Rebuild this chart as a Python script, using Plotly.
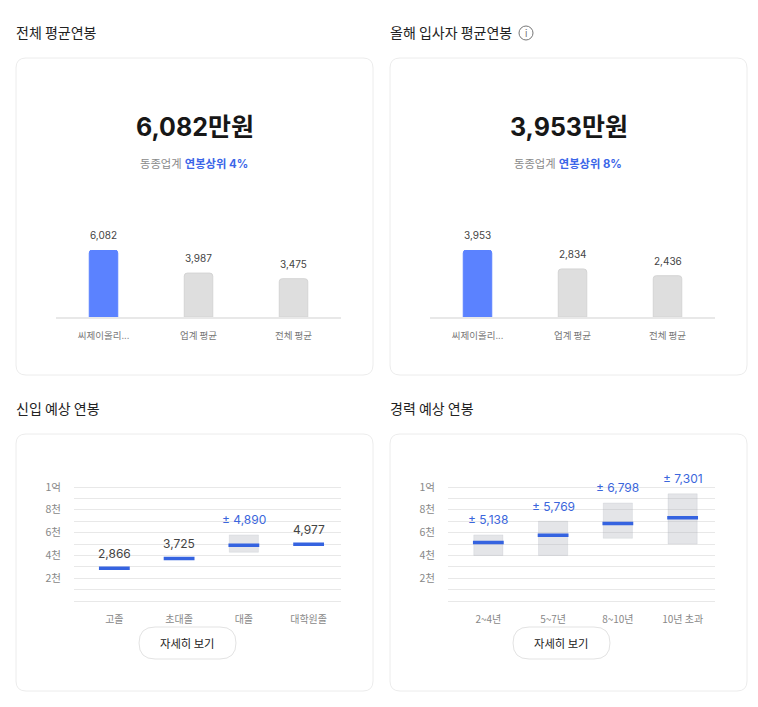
import plotly.graph_objects as go

W = 758
H = 707

FONT = "Inter, 'Noto Sans CJK KR', sans-serif"
KR = "'Noto Sans CJK KR', sans-serif"
BLUE = "#5b82ff"
LINE_BLUE = "#3563e0"
TEXT_BLUE = "#3b66dc"
GREY = "#dedede"
GRID = "#e8e8e8"

# top panels
total_cats = ["씨제이올리...", "업계 평균", "전체 평균"]
total_vals = [6082, 3987, 3475]
newhire_cats = ["씨제이올리...", "업계 평균", "전체 평균"]
newhire_vals = [3953, 2834, 2436]

# bottom left
entry_cats = ["고졸", "초대졸", "대졸", "대학원졸"]
entry_vals = [2866, 3725, 4890, 4977]
entry_low = [None, None, 4270, None]
entry_high = [None, None, 5800, None]

# bottom right
career_cats = ["2~4년", "5~7년", "8~10년", "10년 초과"]
career_vals = [5138, 5769, 6798, 7301]
career_low = [4000, 4000, 5500, 5000]
career_high = [5800, 7000, 8600, 9400]

grid_vals = [0, 1000, 2000, 3000, 4000, 5000, 6000, 7000, 8000, 9000, 10000]
grid_text = ["", "", "2천", "", "4천", "", "6천", "", "8천", "", "1억"]


def px(x):
    return x / W


def py(y):
    return 1 - y / H


def rounded(x0, y0, x1, y1, r):
    return (f"M{px(x0 + r)},{py(y0)} L{px(x1 - r)},{py(y0)} Q{px(x1)},{py(y0)} {px(x1)},{py(y0 + r)} "
            f"L{px(x1)},{py(y1 - r)} Q{px(x1)},{py(y1)} {px(x1 - r)},{py(y1)} "
            f"L{px(x0 + r)},{py(y1)} Q{px(x0)},{py(y1)} {px(x0)},{py(y1 - r)} "
            f"L{px(x0)},{py(y0 + r)} Q{px(x0)},{py(y0)} {px(x0 + r)},{py(y0)} Z")


fig = go.Figure()
annotations = []
shapes = []


def label(x, y, text, size, color, font=FONT, anchor="center"):
    annotations.append(dict(xref="paper", yref="paper", x=px(x), y=py(y), text=text, showarrow=False,
                            xanchor=anchor, yanchor="middle", align=anchor, borderpad=0, borderwidth=0,
                            font=dict(size=size, color=color, family=font)))


def card(x0, y0, x1, y1):
    shapes.append(dict(type="path", xref="paper", yref="paper", path=rounded(x0, y0, x1, y1, 10),
                       line=dict(color="#ececec", width=1), fillcolor="white", layer="below"))


def button(x0, x1):
    shapes.append(dict(type="path", xref="paper", yref="paper", path=rounded(x0, 627, x1, 659, 16),
                       line=dict(color="#e3e3e3", width=1), fillcolor="white", layer="above"))
    label((x0 + x1) / 2, 643, "자세히 보기", 11.3, "#222222", KR)


def bar_panel(n, cats, vals, x0, x1):
    xa = f"x{n}"
    ya = f"y{n}"
    fig.add_trace(go.Bar(x=cats, y=vals, xaxis=xa, yaxis=ya, width=0.3,
                         marker=dict(color=[BLUE, GREY, GREY],
                                     line=dict(color=[BLUE, "#d4d4d4", "#d4d4d4"], width=1),
                                     cornerradius=3)))
    fig.update_layout({
        f"xaxis{n}": dict(domain=[px(x0), px(x1)], anchor=ya, showgrid=False, showline=True, linecolor=GRID,
                          linewidth=1.5, ticks="outside", ticklen=9, tickcolor="rgba(0,0,0,0)", automargin=False,
                          tickfont=dict(size=9.5, color="#777777", family=KR), fixedrange=True),
        f"yaxis{n}": dict(domain=[py(317), py(250)], anchor=xa, range=[0, max(vals)], visible=False,
                          automargin=False),
    })
    for c, v in zip(cats, vals):
        annotations.append(dict(xref=xa, yref=ya, x=c, y=v, yshift=15, text=f"{v:,}", showarrow=False,
                                yanchor="middle", font=dict(size=10, color="#444444", family=FONT)))


def range_panel(n, cats, vals, low, high, x0, x1):
    xa = f"x{n}"
    ya = f"y{n}"
    spans = [None if a is None else b - a for a, b in zip(low, high)]
    fig.add_trace(go.Bar(x=cats, y=spans, base=low, xaxis=xa, yaxis=ya, width=0.45,
                         marker=dict(color="rgba(170,174,184,0.32)",
                                     line=dict(color="rgba(170,174,184,0.2)", width=1))))
    fig.add_trace(go.Scatter(x=cats, y=vals, xaxis=xa, yaxis=ya, mode="markers",
                             marker=dict(symbol="line-ew", size=22, line=dict(color=LINE_BLUE, width=3.5))))
    fig.update_layout({
        # plotly drops gridlines within 1px of the axis ends, so pad range and domain by the same amount
        f"xaxis{n}": dict(domain=[px(x0), px(x1)], anchor=ya, range=[-0.623, 3.5], showgrid=False, showline=False,
                          zeroline=False, ticks="outside", ticklen=7, tickcolor="rgba(0,0,0,0)", automargin=False,
                          tickfont=dict(size=10, color="#888888", family=KR), fixedrange=True),
        f"yaxis{n}": dict(domain=[py(602.71), py(485.29)], anchor=xa, range=[-150, 10150], tickvals=grid_vals,
                          ticktext=grid_text, showgrid=True, gridcolor=GRID, gridwidth=1, zeroline=False,
                          ticks="outside", ticklen=10, tickcolor="rgba(0,0,0,0)", automargin=False,
                          tickfont=dict(size=10.5, color="#888888", family=KR), fixedrange=True),
    })
    for c, v, top in zip(cats, vals, high):
        if top is None:
            text, y, color = f"{v:,}", v, "#444444"
        else:
            text, y, color = f"± {v:,}", top, TEXT_BLUE
        annotations.append(dict(xref=xa, yref=ya, x=c, y=y, yshift=15, text=text, showarrow=False,
                                yanchor="middle", font=dict(size=12, color=color, family=FONT)))


card(16, 58, 373, 375)
card(390, 58, 747, 375)
card(16, 434, 373, 691)
card(390, 434, 747, 691)

bar_panel(1, total_cats, total_vals, 56, 341)
bar_panel(2, newhire_cats, newhire_vals, 430, 715)
range_panel(3, entry_cats, entry_vals, entry_low, entry_high, 74, 341)
range_panel(4, career_cats, career_vals, career_low, career_high, 448, 715)

label(16, 32, "전체 평균연봉", 14, "#222222", KR, "left")
label(390, 32, "올해 입사자 평균연봉", 14, "#222222", KR, "left")
label(16, 408, "신입 예상 연봉", 14, "#222222", KR, "left")
label(390, 408, "경력 예상 연봉", 14, "#222222", KR, "left")

# info icon next to the title
shapes.append(dict(type="circle", xref="paper", yref="paper", x0=px(519), x1=px(533), y0=py(40), y1=py(26),
                   line=dict(color="#777777", width=1)))
label(526, 33, "i", 10, "#777777")

label(195, 127, "<b>6,082만원</b>", 25, "#171717")
label(569, 127, "<b>3,953만원</b>", 25, "#171717")
sub = '동종업계 <span style="color:#3b66e8"><b>연봉상위 {}</b></span>'
label(194, 164, sub.format("4%"), 11.3, "#8a8a8a")
label(568, 164, sub.format("8%"), 11.3, "#8a8a8a")

button(139, 236)
button(513, 610)

fig.update_layout(width=W, height=H, margin=dict(l=0, r=0, t=0, b=0), showlegend=False, barmode="overlay",
                  paper_bgcolor="white", plot_bgcolor="rgba(0,0,0,0)", hovermode=False,
                  font=dict(family=FONT), annotations=annotations, shapes=shapes)

fig.write_html("out.html", config={"displayModeBar": False},
               post_script="document.body.style.margin='0';")
